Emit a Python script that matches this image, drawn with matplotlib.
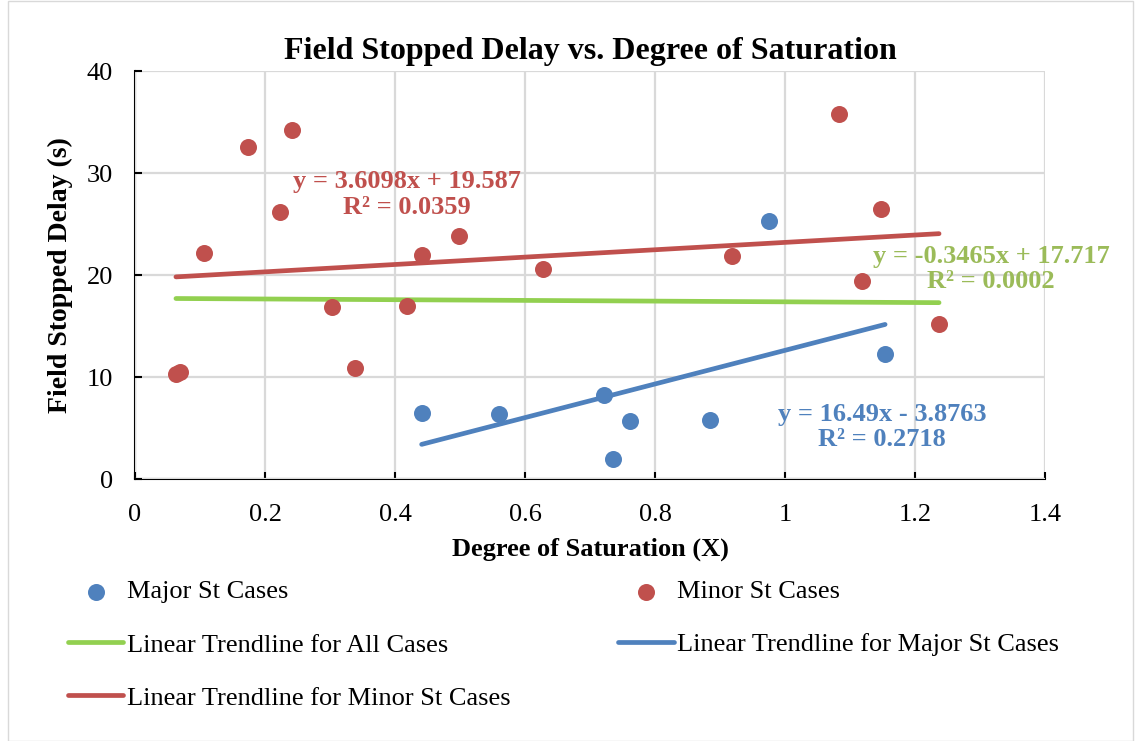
import matplotlib
matplotlib.use("Agg")
import matplotlib.pyplot as plt
import numpy as np

plt.rcParams['font.family'] = ['Liberation Serif', 'DejaVu Serif']

major_x = [0.441, 0.560, 0.722, 0.736, 0.762, 0.885, 0.976, 1.154]
major_y = [6.5, 6.4, 8.2, 2.0, 5.7, 5.8, 25.3, 12.3]

minor_x = [0.063, 0.069, 0.106, 0.174, 0.223, 0.242, 0.303, 0.338, 0.418, 0.441,
           0.499, 0.627, 0.918, 1.083, 1.119, 1.147, 1.237]
minor_y = [10.3, 10.5, 22.2, 32.5, 26.2, 34.2, 16.9, 10.9, 17.0, 22.0,
           23.8, 20.6, 21.9, 35.8, 19.4, 26.5, 15.2]

all_slope, all_icpt = -0.3465, 17.717
major_slope, major_icpt = 16.49, -3.8763
minor_slope, minor_icpt = 3.6098, 19.587

eq_all = "y = -0.3465x + 17.717\nR² = 0.0002"
eq_major = "y = 16.49x - 3.8763\nR² = 0.2718"
eq_minor = "y = 3.6098x + 19.587\nR² = 0.0359"

xticks = [0, 0.2, 0.4, 0.6, 0.8, 1, 1.2, 1.4]
xticklabels = ["0", "0.2", "0.4", "0.6", "0.8", "1", "1.2", "1.4"]
yticks = [0, 10, 20, 30, 40]

c_blue = "#4F81BD"
c_red = "#C0504D"
c_green_line = "#92D050"
c_green_text = "#9BBB59"

fig = plt.figure(figsize=(11.36, 7.41), dpi=100)
ax = fig.add_axes([135/1136, 1-479/741, (1045-135)/1136, (479-71)/741])

ax.set_xlim(0, 1.4)
ax.set_ylim(0, 40)
ax.set_xticks(xticks)
ax.set_xticklabels(xticklabels)
ax.set_yticks(yticks)
ax.grid(True, color="#D9D9D9", linewidth=1.6)
ax.set_axisbelow(True)
for s in ["top", "right"]:
    ax.spines[s].set_visible(False)
for s in ["left", "bottom"]:
    ax.spines[s].set_linewidth(1.5)
    ax.spines[s].set_zorder(0.5)
ax.tick_params(axis="both", labelsize=19, width=1.5, length=5, direction="in")
ax.tick_params(axis="x", pad=18)
ax.tick_params(axis="y", pad=16)

def xrange_(xs):
    return np.array([min(xs), max(xs)])

all_x = major_x + minor_x
xa = xrange_(all_x)
xm = xrange_(major_x)
xn = xrange_(minor_x)

h_all, = ax.plot(xa, all_slope*xa + all_icpt, color=c_green_line, lw=3.4, solid_capstyle="round", zorder=2)
h_majt, = ax.plot(xm, major_slope*xm + major_icpt, color=c_blue, lw=3.4, solid_capstyle="round", zorder=2)
h_mint, = ax.plot(xn, minor_slope*xn + minor_icpt, color=c_red, lw=3.4, solid_capstyle="round", zorder=2)

h_maj = ax.scatter(major_x, major_y, s=150, color=c_blue, zorder=3, linewidths=0)
h_min = ax.scatter(minor_x, minor_y, s=150, color=c_red, zorder=3, linewidths=0)

ax.text(0.418, 27.9, eq_minor, color=c_red, fontsize=19, fontweight="bold",
        ha="center", va="center", linespacing=1.15)
ax.text(1.317, 20.6, eq_all, color=c_green_text, fontsize=19, fontweight="bold",
        ha="center", va="center", linespacing=1.15, clip_on=False)
ax.text(1.149, 5.1, eq_major, color=c_blue, fontsize=19, fontweight="bold",
        ha="center", va="center", linespacing=1.15)

ax.set_title("Field Stopped Delay vs. Degree of Saturation", fontsize=23,
             fontweight="bold", pad=9)
ax.set_xlabel("Degree of Saturation (X)", fontsize=19, fontweight="bold", labelpad=8)
ax.set_ylabel("Field Stopped Delay (s)", fontsize=20, fontweight="bold", labelpad=10)

handles = [h_maj, h_all, h_mint, h_min, h_majt]
labels = ["Major St Cases", "Linear Trendline for All Cases",
          "Linear Trendline for Minor St Cases", "Minor St Cases",
          "Linear Trendline for Major St Cases"]
leg = fig.legend(handles, labels, ncol=2, loc="upper left",
                 bbox_to_anchor=(68/1136, 1-580/741), frameon=False,
                 fontsize=19, handlelength=2.1, handletextpad=0.12,
                 columnspacing=4.1, labelspacing=1.12, borderaxespad=0,
                 borderpad=0)

fig.patches.append(plt.Rectangle((0.007, 0), 0.99, 0.999, transform=fig.transFigure,
                                 fill=False, edgecolor="#D9D9D9", lw=1.0))

fig.savefig("out.png", dpi=100)
